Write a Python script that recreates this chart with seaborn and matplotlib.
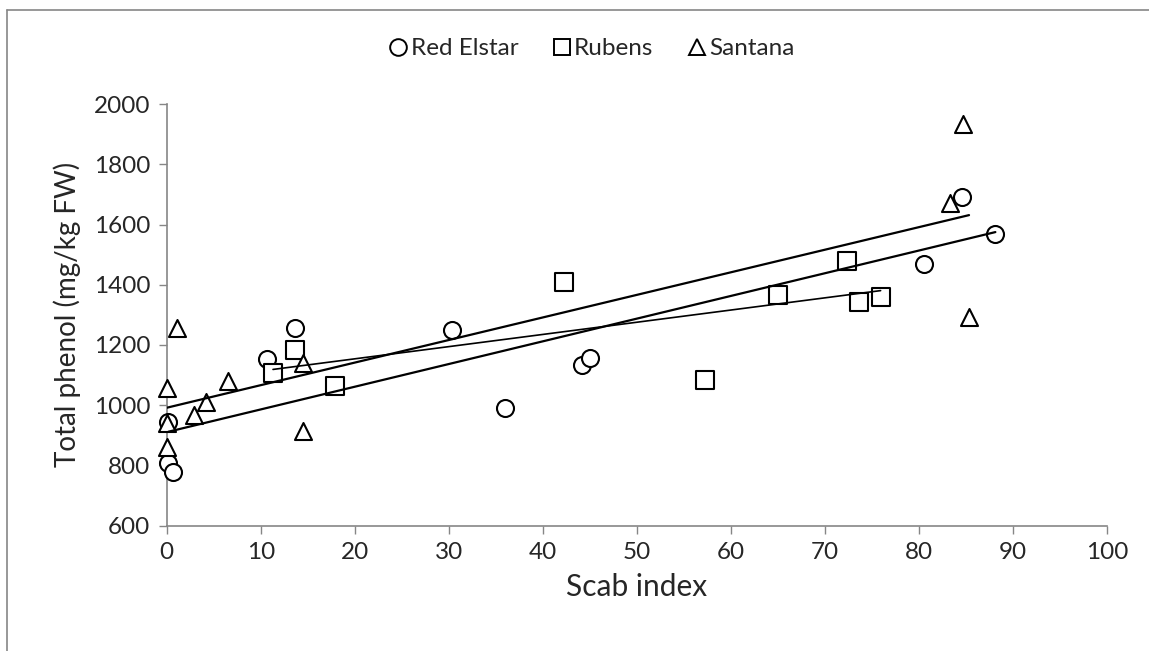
import matplotlib
matplotlib.use("Agg")
import matplotlib.pyplot as plt
import matplotlib.lines as mlines
import seaborn as sns
import pandas as pd

sns.set_theme(style="white")
plt.rcParams['font.family'] = ['Lato', 'DejaVu Sans']

# Data
red_elstar_x = [0.17, 0.17, 0.70, 10.7, 13.6, 30.3, 36.0, 44.2, 45.0, 80.5, 84.5, 88.1]
red_elstar_y = [945, 807, 779, 1152, 1255, 1250, 991, 1134, 1158, 1469, 1692, 1567]

rubens_x = [11.3, 13.6, 17.9, 42.2, 57.2, 65.0, 72.3, 73.6, 75.9]
rubens_y = [1106, 1183, 1064, 1410, 1084, 1366, 1480, 1342, 1360]

santana_x = [1.1, 0.0, 0.0, 0.0, 2.9, 4.2, 6.5, 14.5, 14.5, 83.3, 84.7, 85.3]
santana_y = [1255, 1056, 940, 862, 968, 1012, 1081, 1139, 915, 1670, 1934, 1294]

varieties = ["Red Elstar", "Rubens", "Santana"]
x_ticks = list(range(0, 101, 10))
y_ticks = list(range(600, 2001, 200))

df = pd.concat([
    pd.DataFrame({"x": red_elstar_x, "y": red_elstar_y, "variety": "Red Elstar"}),
    pd.DataFrame({"x": rubens_x, "y": rubens_y, "variety": "Rubens"}),
    pd.DataFrame({"x": santana_x, "y": santana_y, "variety": "Santana"}),
])

markers = {"Red Elstar": "o", "Rubens": "s", "Santana": "^"}
line_w = {"Red Elstar": 1.6, "Rubens": 1.2, "Santana": 1.6}

fig = plt.figure(figsize=(11.49, 6.51), dpi=100)
ax = fig.add_axes([0.1451, 0.1925, 0.8186, 0.6477])

for v in varieties:
    sub = df[df["variety"] == v]
    sns.scatterplot(data=sub, x="x", y="y", marker=markers[v], s=150,
                    color="white", edgecolor="black", linewidth=1.5,
                    ax=ax, clip_on=False, zorder=3, legend=False)
for v in varieties:
    sub = df[df["variety"] == v]
    sns.regplot(data=sub, x="x", y="y", scatter=False, ci=None, truncate=True,
                ax=ax, line_kws={"color": "black", "linewidth": line_w[v], "zorder": 4})

ax.set_xlim(0, 100)
ax.set_ylim(600, 2000)
ax.set_xticks(x_ticks)
ax.set_yticks(y_ticks)
ax.set_xlabel("Scab index", fontsize=21.5, labelpad=7)
ax.set_ylabel("Total phenol (mg/kg FW)", fontsize=20, labelpad=9)
ax.tick_params(axis="both", labelsize=17.5, length=6, width=1, color="#868686",
               direction="out", pad=6, left=True, bottom=True)
for side in ["top", "right"]:
    ax.spines[side].set_visible(False)
for side in ["left", "bottom"]:
    ax.spines[side].set_color("#868686")
    ax.spines[side].set_linewidth(1.2)

handles = [mlines.Line2D([], [], linestyle="none", marker=markers[v], markersize=12,
                         markerfacecolor="white", markeredgecolor="black",
                         markeredgewidth=1.4, label=v) for v in varieties]
fig.legend(handles=handles, loc="center", bbox_to_anchor=(0.514, 0.925), ncol=3,
           frameon=False, fontsize=17.5, handletextpad=0.0, columnspacing=1.3,
           handlelength=1.0)

# partial outer frame (top and left edges visible in reference)
fig.add_artist(mlines.Line2D([7/1149, 7/1149], [0, 1 - 10/651], transform=fig.transFigure,
                             color="#868686", linewidth=1.2))
fig.add_artist(mlines.Line2D([7/1149, 1], [1 - 10/651, 1 - 10/651], transform=fig.transFigure,
                             color="#868686", linewidth=1.2))

fig.savefig("out.png", dpi=100)
